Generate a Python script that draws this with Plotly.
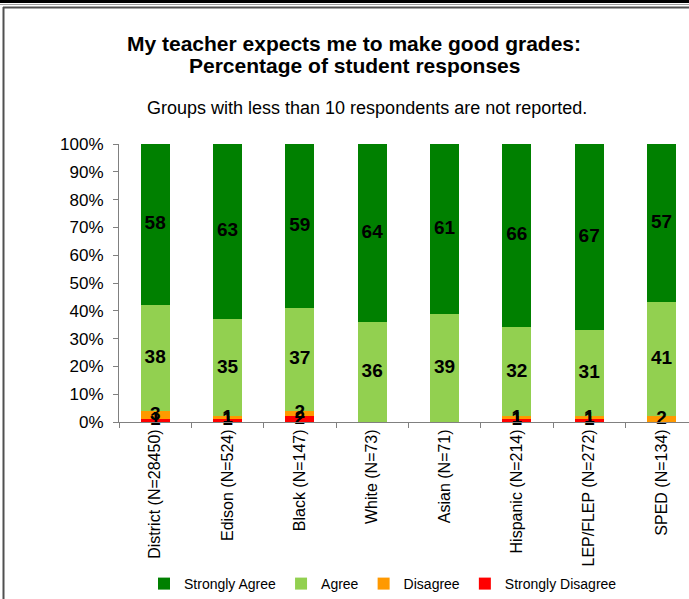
import plotly.graph_objects as go

categories = ["District (N=28450)", "Edison (N=524)", "Black (N=147)", "White (N=73)",
              "Asian (N=71)", "Hispanic (N=214)", "LEP/FLEP (N=272)", "SPED (N=134)"]
strongly_disagree = [1, 1, 2, 0, 0, 1, 1, 0]
disagree = [3, 1, 2, 0, 0, 1, 1, 2]
agree = [38, 35, 37, 36, 39, 32, 31, 41]
strongly_agree = [58, 63, 59, 64, 61, 66, 67, 57]
y_ticks = [0, 10, 20, 30, 40, 50, 60, 70, 80, 90, 100]
y_tick_labels = [f"{v}%" for v in y_ticks]

series = [
    ("Strongly Disagree", strongly_disagree, "#FF0000"),
    ("Disagree", disagree, "#FF9900"),
    ("Agree", agree, "#92D050"),
    ("Strongly Agree", strongly_agree, "#008000"),
]

W, H = 689, 599
L, R, T, B = 119, 0, 144, 177
PW, PH = W - L - R, H - T - B

def px(x):
    return (x - L) / PW

def py(y):
    return (H - B - y) / PH

fig = go.Figure()
for name, vals, color in series:
    fig.add_trace(go.Bar(x=categories, y=vals, name=name, marker_color=color,
                         marker_line_width=0))

# data labels at segment centres
lx, ly, lt = [], [], []
base = [0] * len(categories)
for name, vals, color in series:
    for i, v in enumerate(vals):
        if v > 0:
            lx.append(categories[i])
            ly.append(base[i] + v / 2)
            lt.append(str(v))
        base[i] += v
fig.add_trace(go.Scatter(x=lx, y=ly, text=lt, mode="text", showlegend=False,
                         texttemplate="<b>%{text}</b>", textposition="middle center",
                         textfont=dict(family="Arial", size=19, color="black"),
                         hoverinfo="skip", cliponaxis=False))

fig.update_layout(
    width=W, height=H, barmode="stack", bargap=0.6,
    margin=dict(l=L, r=R, t=T, b=B, autoexpand=False),
    paper_bgcolor="white", plot_bgcolor="white",
    font=dict(family="Arial", color="black"),
    showlegend=True,
    legend=dict(orientation="h", x=px(144), y=py(584), xanchor="left", yanchor="middle",
                traceorder="reversed", font=dict(size=14, family="Arial"),
                bgcolor="rgba(0,0,0,0)"),
    xaxis=dict(range=[-0.5, 7 + (W - 661.5) / 72.35], showline=True, linecolor="#808080",
               linewidth=1, ticks="outside", tickson="boundaries", ticklen=5,
               tickcolor="#808080", tickangle=-90, tickfont=dict(size=16, family="Arial"),
               showgrid=False, fixedrange=True),
    yaxis=dict(range=[0, 100], tickmode="array", tickvals=y_ticks, ticktext=y_tick_labels,
               showline=True, linecolor="#808080", linewidth=1, ticks="outside",
               ticklen=5, tickcolor="#808080", tickfont=dict(size=17, family="Arial"),
               ticklabelstandoff=6, showgrid=False, zeroline=False),
    annotations=[
        dict(text="<b>My teacher expects me to make good grades:</b>",
             x=px(354), y=py(43), xref="paper", yref="paper", showarrow=False,
             xanchor="center", yanchor="middle", font=dict(size=21, family="Arial")),
        dict(text="<b>Percentage of student responses</b>",
             x=px(354), y=py(66), xref="paper", yref="paper", showarrow=False,
             xanchor="center", yanchor="middle", font=dict(size=21, family="Arial")),
        dict(text="Groups with less than 10 respondents are not reported.",
             x=px(367), y=py(108), xref="paper", yref="paper", showarrow=False,
             xanchor="center", yanchor="middle", font=dict(size=18, family="Arial")),
    ],
    shapes=[
        dict(type="line", xref="paper", yref="paper", x0=px(0), x1=px(W), y0=py(1.5), y1=py(1.5),
             line=dict(color="black", width=3)),
        dict(type="line", xref="paper", yref="paper", x0=px(0), x1=px(W), y0=py(4.5), y1=py(4.5),
             line=dict(color="#A0A0A0", width=1)),
        dict(type="line", xref="paper", yref="paper", x0=px(3), x1=px(W), y0=py(7.5), y1=py(7.5),
             line=dict(color="#505050", width=2)),
        dict(type="line", xref="paper", yref="paper", x0=px(3.5), x1=px(3.5), y0=py(7), y1=py(H),
             line=dict(color="#505050", width=2)),
    ],
)

fig.write_html("out.html", config={"displayModeBar": False},
               post_script="document.body.style.margin='0';document.body.style.overflow='hidden';")
